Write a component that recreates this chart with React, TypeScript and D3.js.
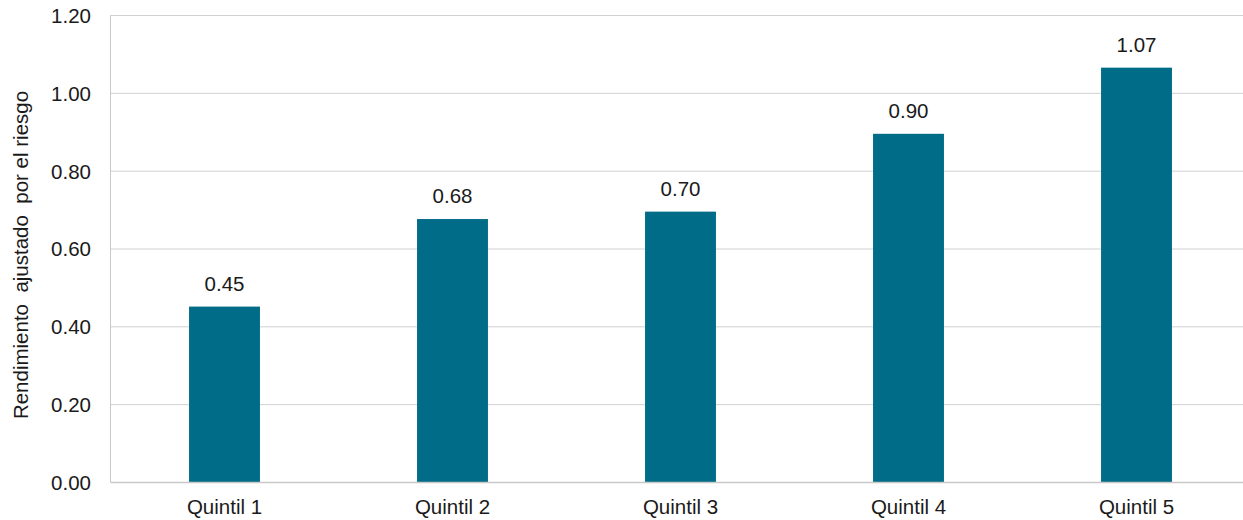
import React from "react";
import * as d3 from "d3";

const categories = ["Quintil 1", "Quintil 2", "Quintil 3", "Quintil 4", "Quintil 5"];
const values = [0.452, 0.677, 0.696, 0.896, 1.066];
const yTicks = [0, 0.2, 0.4, 0.6, 0.8, 1.0, 1.2];
const yTitle = "Rendimiento  ajustado  por el riesgo";

const W = 1243;
const H = 520;
const M = { left: 110.5, right: 1250.5, top: 15.5, bottom: 482.5 };
const FONT = "'Liberation Sans', Arial, sans-serif";
const FS = 20.5;

export default function App() {
  const x = d3.scaleBand<string>().domain(categories).range([M.left, M.right]).paddingInner(0.689).paddingOuter(0.3445);
  const y = d3.scaleLinear().domain([0, 1.2]).range([M.bottom, M.top]);
  return (
    <svg width={W} height={H} style={{ position: "absolute", left: 0, top: 0 }} fontFamily={FONT}>
      <rect width={W} height={H} fill="#fff" />
      {yTicks.map((t) => (
        <g key={t}>
          {t > 0 && <line x1={M.left} x2={M.right} y1={y(t)} y2={y(t)} stroke="#d0d0d0" strokeWidth={1} />}
          <text x={91} y={y(t)} dy="0.36em" textAnchor="end" fontSize={FS} fill="#1a1a1a">
            {t.toFixed(2)}
          </text>
        </g>
      ))}
      {categories.map((c, i) => (
        <g key={c}>
          <rect x={x(c)} y={y(values[i])} width={x.bandwidth()} height={y(0) - y(values[i])} fill="#006C87" />
          <text x={x(c)! + x.bandwidth() / 2} y={y(values[i]) - 16} textAnchor="middle" fontSize={FS} fill="#1a1a1a">
            {values[i].toFixed(2)}
          </text>
          <text x={x(c)! + x.bandwidth() / 2} y={514} textAnchor="middle" fontSize={FS} fill="#1a1a1a">
            {c}
          </text>
        </g>
      ))}
      <line x1={M.left} x2={M.left} y1={M.top} y2={M.bottom} stroke="#c8c8c8" strokeWidth={1} />
      <line x1={M.left} x2={M.right} y1={M.bottom} y2={M.bottom} stroke="#c8c8c8" strokeWidth={1.5} />
      <text
        transform={`translate(28,${(M.top + M.bottom) / 2 + 6}) rotate(-90)`}
        textAnchor="middle"
        fontSize={FS}
        fill="#1a1a1a"
        style={{ whiteSpace: "pre" }}
      >
        {yTitle}
      </text>
    </svg>
  );
}
